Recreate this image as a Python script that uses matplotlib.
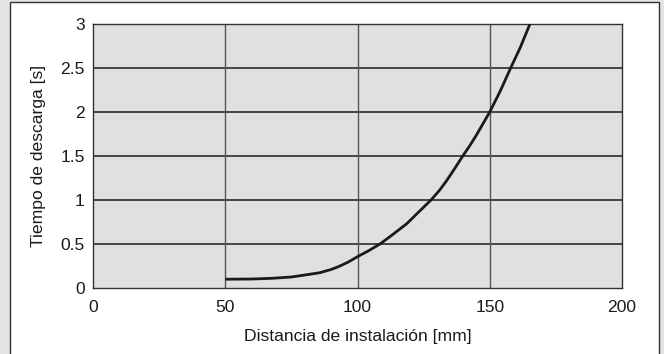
import numpy as np
import matplotlib as mpl
mpl.use('Agg')
import matplotlib.pyplot as plt
from matplotlib.patches import Rectangle

# values
dist_mm = [50, 60, 67.6, 75, 80, 85.8, 90, 93, 96.5, 100, 104, 108.5, 113, 118.6, 123,
           127.8, 131, 133.7, 136.8, 139.8, 142.5, 145, 147.5, 150, 154, 157.9, 161.5, 165.2]
tiempo_s = [0.10, 0.102, 0.11, 0.125, 0.147, 0.174, 0.21, 0.245, 0.295, 0.356, 0.42, 0.5, 0.6,
            0.73, 0.86, 1.0, 1.11, 1.22, 1.36, 1.5, 1.62, 1.74, 1.87, 2.0, 2.24, 2.5, 2.73, 3.0]

xticks = [0, 50, 100, 150, 200]
yticks = [0, 0.5, 1, 1.5, 2, 2.5, 3]
ytick_labels = ['0', '0.5', '1', '1.5', '2', '2.5', '3']

plt.rcParams['font.family'] = ['Liberation Sans', 'DejaVu Sans']

fig = plt.figure(figsize=(6.64, 3.54), dpi=100)
fig.patch.set_facecolor('#e4e4e4')

# white panel with dark border (behind the axes)
W, H = 664.0, 354.0
panel = Rectangle((10 / W, -0.05), 649 / W, (352 + 17.7) / H, transform=fig.transFigure,
                  facecolor='white', edgecolor='#333333', lw=1.0, zorder=-10)
fig.patches.append(panel)

ax = fig.add_axes([93 / W, 1 - 288 / H, (622 - 93) / W, (288 - 24) / H])
ax.set_zorder(5)
ax.set_facecolor('#dfe0e1')

for y in yticks[1:-1]:
    ax.axhline(y, color='#1a1a1a', lw=1.1, zorder=1)
for x in xticks[1:-1]:
    ax.axvline(x, color='#555555', lw=1.0, zorder=1)

ax.plot(dist_mm, tiempo_s, color='#1a1a1a', lw=2.0, zorder=3,
        solid_capstyle='butt', solid_joinstyle='round')

ax.set_xlim(0, 200)
ax.set_ylim(0, 3)
ax.set_xticks(xticks)
ax.set_yticks(yticks)
ax.set_yticklabels(ytick_labels)
ax.tick_params(length=0, labelsize=12.6, colors='#1a1a1a')
ax.tick_params(axis='x', pad=8.5)
ax.tick_params(axis='y', pad=6)
for sp in ax.spines.values():
    sp.set_color('#333333')
    sp.set_linewidth(1.0)

ax.set_xlabel('Distancia de instalación [mm]', fontsize=12.6, labelpad=10, color='#1a1a1a')
ax.set_ylabel('Tiempo de descarga [s]', fontsize=12.6, labelpad=10, color='#1a1a1a')

plt.savefig('out.png', dpi=100, facecolor=fig.get_facecolor())
